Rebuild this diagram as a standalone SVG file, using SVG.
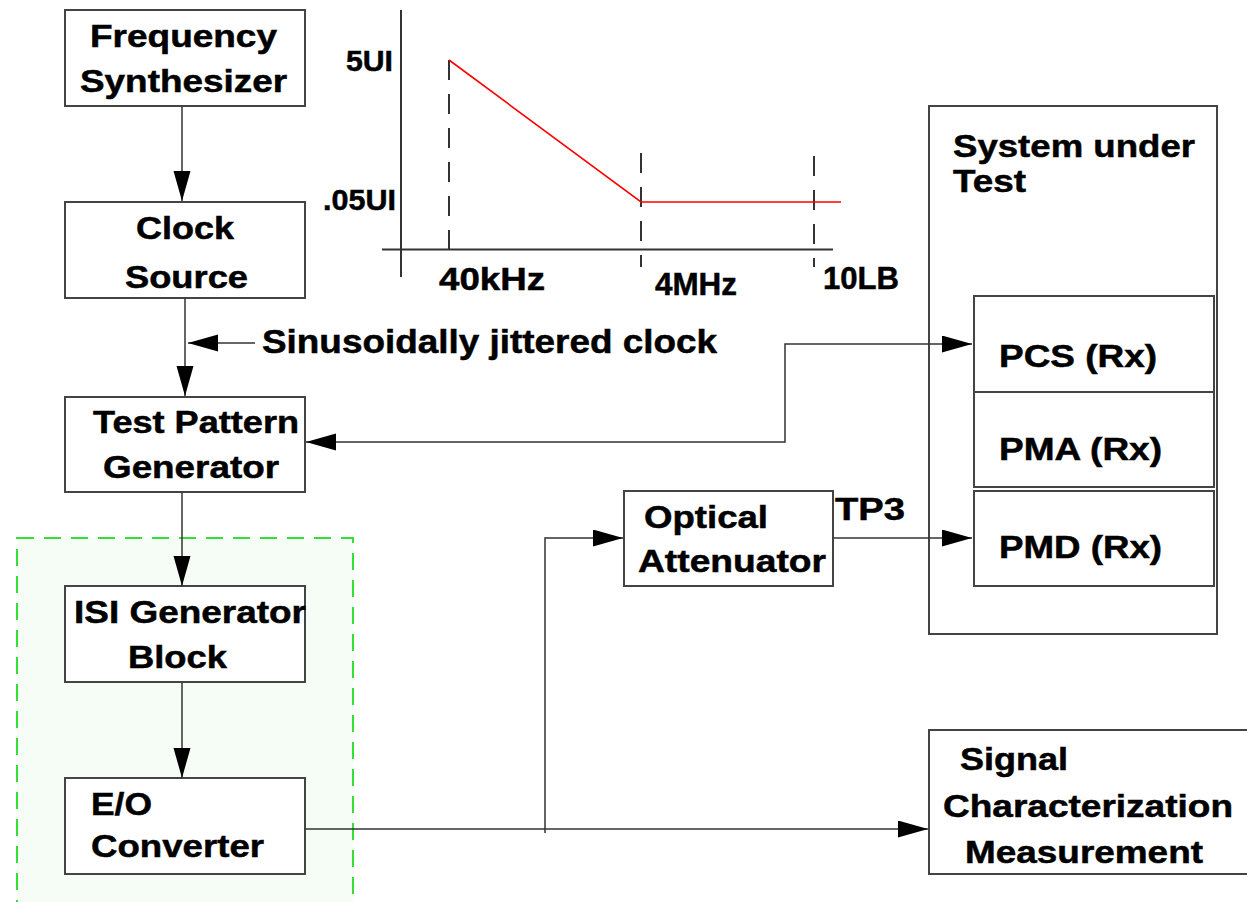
<svg xmlns="http://www.w3.org/2000/svg" width="1247" height="902" viewBox="0 0 1247 902">
<style>
.box{fill:#fff;stroke:#444;stroke-width:2}
.t{font-family:"Liberation Sans",Arial,sans-serif;font-weight:bold;font-size:32px;fill:#000;stroke:#000;stroke-width:0.5}
.t30{font-size:30px}
.t33{font-size:33px}
.con{fill:none;stroke:#333;stroke-width:1.5}
.axis{fill:none;stroke:#333;stroke-width:2}
.dash{fill:none;stroke:#333;stroke-width:2;stroke-dasharray:20 14}
</style>
<defs>
<marker id="ah" markerUnits="userSpaceOnUse" markerWidth="31" markerHeight="18" refX="30" refY="8.5" orient="auto-start-reverse" viewBox="0 0 31 18">
<path d="M0,0 L30,8.5 L0,17 Z" fill="#000"/>
</marker>
</defs>
<rect width="1247" height="902" fill="#fff"/>

<g id="isi-group">
<rect x="17" y="538" width="336" height="380" fill="#f6fdf6" stroke="#33e033" stroke-width="2" stroke-dasharray="17 10"/>
</g>

<g id="chart">
<line class="axis" x1="401" y1="10" x2="401" y2="277"/>
<line class="axis" x1="382" y1="249.5" x2="833" y2="249.5"/>
<line class="dash" x1="449" y1="60" x2="449" y2="262"/>
<line class="dash" x1="641" y1="153" x2="641" y2="267"/>
<line class="dash" x1="814" y1="156" x2="814" y2="267"/>
<polyline points="449,60 641,202 841,202" fill="none" stroke="#ff0000" stroke-width="1.6"/>
<text class="t t30" x="346" y="71" textLength="47" lengthAdjust="spacingAndGlyphs">5UI</text>
<text class="t t30" x="323" y="210" textLength="73" lengthAdjust="spacingAndGlyphs">.05UI</text>
<text class="t" x="439" y="290" textLength="106" lengthAdjust="spacingAndGlyphs">40kHz</text>
<text class="t" x="655" y="295" textLength="82" lengthAdjust="spacingAndGlyphs">4MHz</text>
<text class="t" x="823" y="289" textLength="76" lengthAdjust="spacingAndGlyphs">10LB</text>
</g>

<g id="freq-synth">
<rect class="box" x="65" y="10" width="240" height="96"/>
<text class="t" x="90" y="47" textLength="187" lengthAdjust="spacingAndGlyphs">Frequency</text>
<text class="t" x="80" y="92" textLength="207" lengthAdjust="spacingAndGlyphs">Synthesizer</text>
</g>

<g id="clock-source">
<rect class="box" x="65" y="202" width="240" height="96"/>
<text class="t" x="136" y="239" textLength="98" lengthAdjust="spacingAndGlyphs">Clock</text>
<text class="t" x="125" y="288" textLength="123" lengthAdjust="spacingAndGlyphs">Source</text>
</g>

<g id="test-pattern-generator">
<rect class="box" x="65" y="397" width="240" height="95"/>
<text class="t" x="93" y="433" textLength="206" lengthAdjust="spacingAndGlyphs">Test Pattern</text>
<text class="t" x="103" y="478" textLength="176" lengthAdjust="spacingAndGlyphs">Generator</text>
</g>

<g id="isi-generator">
<rect class="box" x="65" y="586" width="240" height="96"/>
<text class="t" x="74" y="623" textLength="232" lengthAdjust="spacingAndGlyphs">ISI Generator</text>
<text class="t" x="128" y="668" textLength="99" lengthAdjust="spacingAndGlyphs">Block</text>
</g>

<g id="eo-converter">
<rect class="box" x="65" y="778" width="240" height="96"/>
<text class="t" x="91" y="815" textLength="61" lengthAdjust="spacingAndGlyphs">E/O</text>
<text class="t" x="91" y="857" textLength="173" lengthAdjust="spacingAndGlyphs">Converter</text>
</g>

<g id="optical-attenuator">
<rect class="box" x="624" y="491" width="209" height="95"/>
<text class="t" x="644" y="528" textLength="124" lengthAdjust="spacingAndGlyphs">Optical</text>
<text class="t" x="638" y="572" textLength="188" lengthAdjust="spacingAndGlyphs">Attenuator</text>
</g>

<g id="system-under-test">
<rect class="box" x="929" y="106" width="288" height="528"/>
<text class="t" x="953" y="157" textLength="242" lengthAdjust="spacingAndGlyphs">System under</text>
<text class="t" x="953" y="192" textLength="73" lengthAdjust="spacingAndGlyphs">Test</text>
</g>

<g id="pcs">
<rect class="box" x="974" y="296" width="240" height="96"/>
<text class="t" x="999" y="367" textLength="158" lengthAdjust="spacingAndGlyphs">PCS (Rx)</text>
</g>

<g id="pma">
<rect class="box" x="974" y="392" width="240" height="95"/>
<text class="t" x="999" y="460" textLength="163" lengthAdjust="spacingAndGlyphs">PMA (Rx)</text>
</g>

<g id="pmd">
<rect class="box" x="974" y="491" width="240" height="95"/>
<text class="t" x="999" y="558" textLength="163" lengthAdjust="spacingAndGlyphs">PMD (Rx)</text>
</g>

<g id="signal-characterization">
<rect class="box" x="929" y="730" width="320" height="144"/>
<text class="t" x="960" y="770" textLength="108" lengthAdjust="spacingAndGlyphs">Signal</text>
<text class="t" x="943" y="817" textLength="290" lengthAdjust="spacingAndGlyphs">Characterization</text>
<text class="t" x="965" y="863" textLength="238" lengthAdjust="spacingAndGlyphs">Measurement</text>
</g>

<g id="connectors">
<path class="con" d="M182,106 V201" marker-end="url(#ah)"/>
<path class="con" d="M185,298 V396" marker-end="url(#ah)"/>
<path class="con" d="M255,343 H188" marker-end="url(#ah)"/>
<path class="con" d="M306,442 H785 V344 H972" marker-start="url(#ah)" marker-end="url(#ah)"/>
<path class="con" d="M182,492 V586" marker-end="url(#ah)"/>
<path class="con" d="M182,682 V778" marker-end="url(#ah)"/>
<path class="con" d="M305,829 H928" marker-end="url(#ah)"/>
<path class="con" d="M545,833 V538 H623" marker-end="url(#ah)"/>
<path class="con" d="M833,538 H972" marker-end="url(#ah)"/>
<text class="t t33" x="262" y="353" textLength="455" lengthAdjust="spacingAndGlyphs">Sinusoidally jittered clock</text>
<text class="t" x="835" y="520" textLength="70" lengthAdjust="spacingAndGlyphs">TP3</text>
</g>
</svg>
